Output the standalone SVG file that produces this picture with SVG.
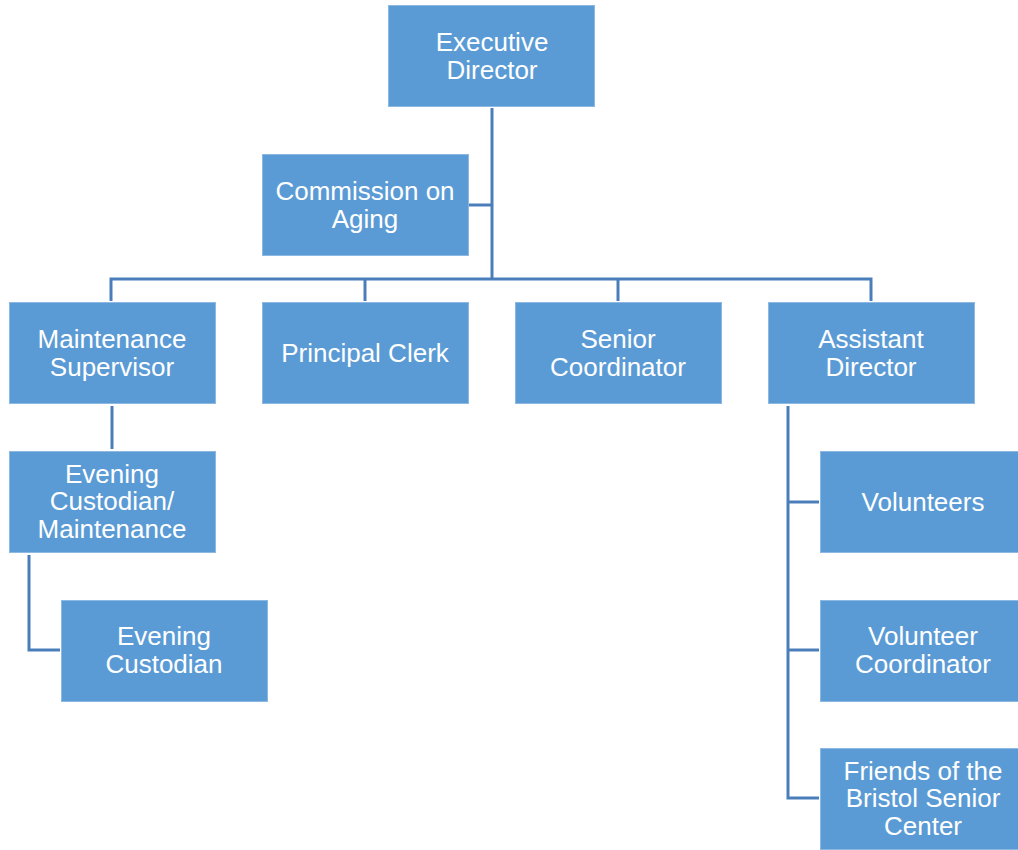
<svg xmlns="http://www.w3.org/2000/svg" width="1018" height="850" viewBox="0 0 1018 850">
  <style>
    .box { fill: #5B9BD5; stroke: #8CB8E2; stroke-width: 1; }
    .lbl { fill: #FFFFFF; font-family: "Liberation Sans", Arial, sans-serif; font-size: 26px; text-anchor: middle; }
    .wire { fill: none; stroke: #4A7EBB; stroke-width: 3; }
  </style>
  <rect width="1018" height="850" fill="#FFFFFF"/>

  <g id="connectors">
    <path class="wire" d="M492 108 V279"/>
    <path class="wire" d="M469 205 H492"/>
    <path class="wire" d="M111 301 V279 H871 V301"/>
    <path class="wire" d="M365 279 V301"/>
    <path class="wire" d="M618 279 V301"/>
    <path class="wire" d="M112 406 V449"/>
    <path class="wire" d="M29 555 V650 H60"/>
    <path class="wire" d="M788 406 V798 H819"/>
    <path class="wire" d="M788 502 H819"/>
    <path class="wire" d="M788 650 H819"/>
  </g>

  <g id="executive-director">
    <rect class="box" x="388.5" y="5.5" width="206" height="101"/>
    <text class="lbl" x="492" y="51">Executive</text>
    <text class="lbl" x="492" y="79">Director</text>
  </g>
  <g id="commission-on-aging">
    <rect class="box" x="262.5" y="154.5" width="206" height="101"/>
    <text class="lbl" x="365" y="200">Commission on</text>
    <text class="lbl" x="365" y="228">Aging</text>
  </g>
  <g id="maintenance-supervisor">
    <rect class="box" x="9.5" y="302.5" width="206" height="101"/>
    <text class="lbl" x="112" y="348">Maintenance</text>
    <text class="lbl" x="112" y="376">Supervisor</text>
  </g>
  <g id="principal-clerk">
    <rect class="box" x="262.5" y="302.5" width="206" height="101"/>
    <text class="lbl" x="365" y="362">Principal Clerk</text>
  </g>
  <g id="senior-coordinator">
    <rect class="box" x="515.5" y="302.5" width="206" height="101"/>
    <text class="lbl" x="618" y="348">Senior</text>
    <text class="lbl" x="618" y="376">Coordinator</text>
  </g>
  <g id="assistant-director">
    <rect class="box" x="768.5" y="302.5" width="206" height="101"/>
    <text class="lbl" x="871" y="348">Assistant</text>
    <text class="lbl" x="871" y="376">Director</text>
  </g>
  <g id="evening-custodian-maintenance">
    <rect class="box" x="9.5" y="451.5" width="206" height="101"/>
    <text class="lbl" x="112" y="483">Evening</text>
    <text class="lbl" x="112" y="510">Custodian/</text>
    <text class="lbl" x="112" y="538">Maintenance</text>
  </g>
  <g id="evening-custodian">
    <rect class="box" x="61.5" y="600.5" width="206" height="101"/>
    <text class="lbl" x="164" y="645">Evening</text>
    <text class="lbl" x="164" y="673">Custodian</text>
  </g>
  <g id="volunteers">
    <rect class="box" x="820.5" y="451.5" width="206" height="101"/>
    <text class="lbl" x="923" y="511">Volunteers</text>
  </g>
  <g id="volunteer-coordinator">
    <rect class="box" x="820.5" y="600.5" width="206" height="101"/>
    <text class="lbl" x="923" y="645">Volunteer</text>
    <text class="lbl" x="923" y="673">Coordinator</text>
  </g>
  <g id="friends-of-bristol-senior-center">
    <rect class="box" x="820.5" y="748.5" width="206" height="101"/>
    <text class="lbl" x="923" y="780">Friends of the</text>
    <text class="lbl" x="923" y="807">Bristol Senior</text>
    <text class="lbl" x="923" y="835">Center</text>
  </g>
</svg>
